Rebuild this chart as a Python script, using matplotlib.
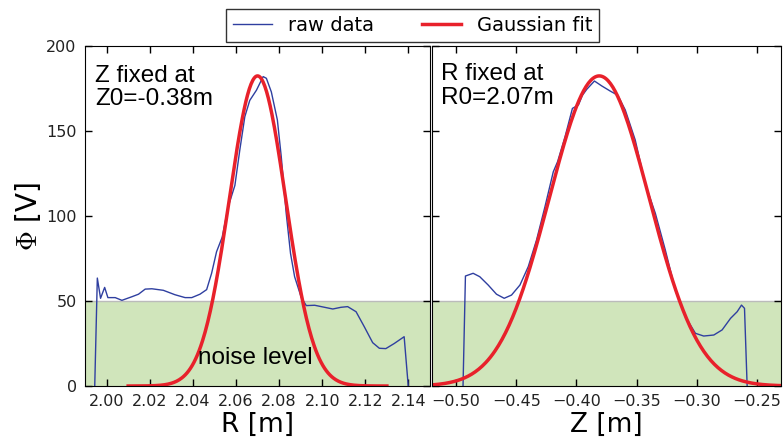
import numpy as np
import matplotlib
matplotlib.use('Agg')
import matplotlib.pyplot as plt
from matplotlib import rcParams

rcParams['mathtext.fontset'] = 'cm'
rcParams['xtick.direction'] = 'in'
rcParams['ytick.direction'] = 'in'
rcParams['xtick.top'] = True
rcParams['ytick.right'] = True
rcParams['xtick.labelsize'] = 11.5
rcParams['ytick.labelsize'] = 11.5
rcParams['xtick.labelcolor'] = '#222222'
rcParams['ytick.labelcolor'] = '#222222'

# raw radial scan (Z fixed)
r_raw = [1.9945, 1.9957, 1.9972, 1.9991, 2.0006, 2.0040, 2.0071, 2.0117, 2.0148,
         2.0179, 2.0210, 2.0263, 2.0317, 2.0364, 2.0395, 2.0433, 2.0464, 2.0487,
         2.0510, 2.0536, 2.0564, 2.0595, 2.0618, 2.0641, 2.0664, 2.0695, 2.0726,
         2.0741, 2.0764, 2.0792, 2.0810, 2.0833, 2.0853, 2.0872, 2.0903, 2.0926,
         2.0965, 2.1011, 2.1049, 2.1087, 2.1118, 2.1157, 2.1195, 2.1234, 2.1265,
         2.1295, 2.1334, 2.1380, 2.1399]
phi_r = [0, 63.5, 51.6, 58, 52, 52, 50.4, 52.5, 54,
         57, 57.2, 56.3, 53.7, 52, 52, 54, 56.7, 66.3,
         79, 87.5, 105.5, 118, 139, 158.4, 168, 174, 182,
         181, 173, 156.5, 135, 101.6, 78, 64.3, 52, 47.3,
         47.5, 46.3, 45.3, 46.3, 46.7, 43.7, 34.9, 25.5, 22.2,
         22, 25, 29, 0]

# raw vertical scan (R fixed)
z_raw = [-0.4942, -0.4922, -0.4858, -0.4803, -0.4733, -0.4664, -0.4600, -0.4539,
         -0.4469, -0.4400, -0.4331, -0.4261, -0.4192, -0.4156, -0.4094, -0.4033,
         -0.3983, -0.3950, -0.3914, -0.3850, -0.3789, -0.3719, -0.3656, -0.3594,
         -0.3511, -0.3428, -0.3344, -0.3261, -0.3178, -0.3094, -0.3011, -0.2942,
         -0.2858, -0.2789, -0.2719, -0.2664, -0.2628, -0.2603, -0.2581]
phi_z = [0, 64.7, 66.3, 64.3, 59.4, 54, 51.6, 53.5,
         59.4, 70.2, 85.9, 105.5, 126, 132, 146.7, 163.3,
         165.3, 171, 174.5, 179.4, 176.5, 173.5, 171, 162.4,
         144.7, 119, 101.6, 80, 56.5, 40.8, 31, 29.4,
         30, 33, 39.8, 43.7, 47.6, 45.7, 0]

# gaussian fit parameters: amplitude, centre, sigma
fit_r = (182.4, 2.070, 0.0130)
fit_z = (182.4, -0.381, 0.0415)
noise_level = 50

blue = '#2f3fa0'
red = '#e8212b'
green = '#d0e5bb'


def gauss(x, a, x0, s):
    return a * np.exp(-(x - x0)**2 / (2 * s**2))


fig = plt.figure(figsize=(7.83, 4.44), dpi=100)
ax1 = fig.add_axes([0.1086, 0.1306, 0.4406, 0.7658])
ax2 = fig.add_axes([0.5517, 0.1306, 0.4457, 0.7658], sharey=ax1)

# left: R scan
ax1.axhspan(0, noise_level, facecolor=green, edgecolor='none', zorder=0)
ax1.axhline(noise_level, color='#bbbbbb', lw=1, zorder=0.5)
rr = np.linspace(2.01, 2.13, 300)
ax1.plot(r_raw, phi_r, color=blue, lw=1, label='raw data')
ax1.plot(rr, gauss(rr, *fit_r), color=red, lw=2.5, label='Gaussian fit')
ax1.set_xlim(1.99, 2.15)
ax1.set_ylim(0, 200)
ax1.set_xticks(np.arange(2.00, 2.141, 0.02))
ax1.set_xticklabels(['%.2f' % v for v in np.arange(2.00, 2.141, 0.02)])
ax1.set_yticks([0, 50, 100, 150, 200])
ax1.set_xlabel('R [m]', fontsize=19, labelpad=2)
ax1.set_ylabel(r'$\Phi$ [V]', fontsize=20, labelpad=2)
ax1.text(0.03, 0.945, 'Z fixed at\nZ0=-0.38m', transform=ax1.transAxes,
         fontsize=17.5, family='Liberation Sans', va='top', ha='left', linespacing=1.1)
ax1.text(2.0423, 13, 'noise level', fontsize=17.5, family='Liberation Sans',
         va='baseline', ha='left')

# right: Z scan
ax2.axhspan(0, noise_level, facecolor=green, edgecolor='none', zorder=0)
ax2.axhline(noise_level, color='#bbbbbb', lw=1, zorder=0.5)
zz = np.linspace(-0.52, -0.23, 300)
ax2.plot(z_raw, phi_z, color=blue, lw=1)
ax2.plot(zz, gauss(zz, *fit_z), color=red, lw=2.5)
ax2.set_xlim(-0.52, -0.23)
ax2.set_xticks(np.arange(-0.50, -0.249, 0.05))
ax2.set_xticklabels(['\u2212%.2f' % -v for v in np.arange(-0.50, -0.249, 0.05)])
ax2.tick_params(labelleft=False)
ax2.set_xlabel('Z [m]', fontsize=19, labelpad=2)
ax2.text(0.025, 0.95, 'R fixed at\nR0=2.07m', transform=ax2.transAxes,
         fontsize=17.5, family='Liberation Sans', va='top', ha='left', linespacing=1.1)

for ax in (ax1, ax2):
    ax.tick_params(length=5, width=1, pad=6)

leg = fig.legend(loc='center', bbox_to_anchor=(0.527, 0.942), ncol=2,
                 fontsize=14, fancybox=False, edgecolor='black',
                 columnspacing=2.5, handlelength=2.0, borderpad=0.35)
leg.get_frame().set_linewidth(1)

fig.savefig('out.png', dpi=100)
